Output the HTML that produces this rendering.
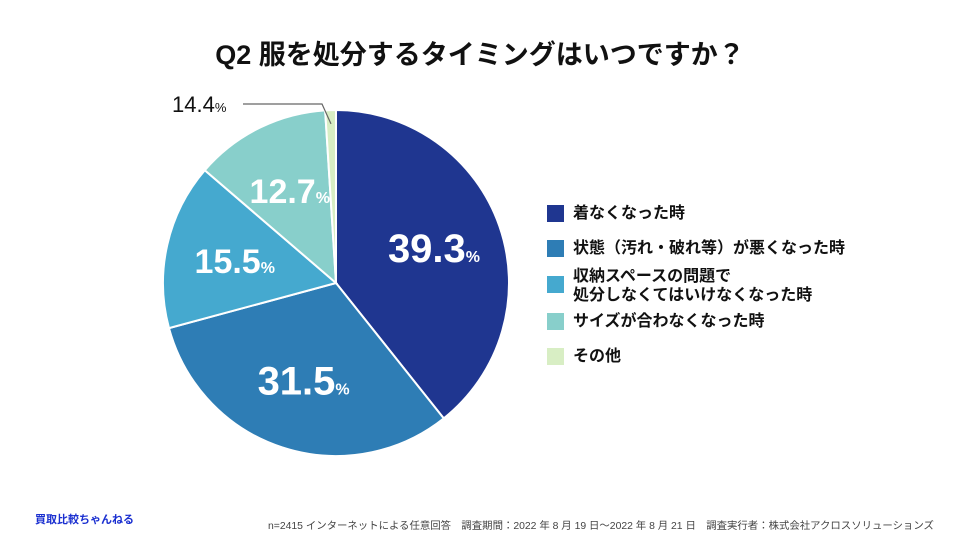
<!DOCTYPE html>
<html><head><meta charset="utf-8">
<style>
body{margin:0;background:#fff;}
#wrap{position:relative;width:960px;height:541px;overflow:hidden;font-family:"Liberation Sans","Noto Sans CJK JP",sans-serif;}
.t{position:absolute;white-space:nowrap;}
.leg{position:absolute;left:547px;font-size:16px;font-weight:bold;color:#111;line-height:19px;}
.sw{position:absolute;left:547px;width:17px;height:17px;}
</style></head><body>
<div id="wrap">
<div class="t" style="left:0;width:960px;text-align:center;top:33px;font-size:27px;font-weight:bold;color:#111;">Q2 服を処分するタイミングはいつですか？</div>
<svg id="pie" width="960" height="541" style="position:absolute;left:0;top:0"></svg>
<div class="sw" style="top:205px;background:#1f3690"></div>
<div class="leg" style="left:573px;top:204px">着なくなった時</div>
<div class="sw" style="top:240px;background:#2e7db5"></div>
<div class="leg" style="left:573px;top:239px">状態（汚れ・破れ等）が悪くなった時</div>
<div class="sw" style="top:276px;background:#45a9cf"></div>
<div class="leg" style="left:573px;top:267px">収納スペースの問題で<br>処分しなくてはいけなくなった時</div>
<div class="sw" style="top:313px;background:#88cfcb"></div>
<div class="leg" style="left:573px;top:312px">サイズが合わなくなった時</div>
<div class="sw" style="top:348px;background:#d8eec4"></div>
<div class="leg" style="left:573px;top:347px">その他</div>
<div class="t" style="left:35px;top:511px;font-size:11px;font-weight:bold;color:#1a2fd0;">買取比較ちゃんねる</div>
<div class="t" style="left:268px;top:517px;font-size:10.4px;color:#444;">n=2415 インターネットによる任意回答　調査期間：2022 年 8 月 19 日〜2022 年 8 月 21 日　調査実行者：株式会社アクロスソリューションズ</div>
</div>
<script>
const categories=["着なくなった時","状態（汚れ・破れ等）が悪くなった時","収納スペースの問題で処分しなくてはいけなくなった時","サイズが合わなくなった時","その他"];
const values=[39.3,31.5,15.5,12.7,1.0];
const labels=["39.3","31.5","15.5","12.7","14.4"];
const colors=["#1f3690","#2e7db5","#45a9cf","#88cfcb","#d8eec4"];
const NS="http://www.w3.org/2000/svg";
const svg=document.getElementById('pie');
const cx=336,cy=283,r=173;
const total=values.reduce((a,b)=>a+b,0);
function pt(a,rr){return [cx+rr*Math.sin(a),cy-rr*Math.cos(a)];}
let acc=0;
values.forEach((v,i)=>{
  const a0=acc/total*2*Math.PI; acc+=v; const a1=acc/total*2*Math.PI;
  const p0=pt(a0,r),p1=pt(a1,r);
  const path=document.createElementNS(NS,'path');
  path.setAttribute('d',`M${cx},${cy}L${p0[0]},${p0[1]}A${r},${r} 0 ${a1-a0>Math.PI?1:0} 1 ${p1[0]},${p1[1]}Z`);
  path.setAttribute('fill',colors[i]);path.setAttribute('stroke','#fff');path.setAttribute('stroke-width','2');
  
  
  svg.appendChild(path);
  const am=(a0+a1)/2;
  if(v>5){
    const p=pt(am,r*0.6);
    const t=document.createElementNS(NS,'text');
    t.setAttribute('x',p[0]);t.setAttribute('y',p[1]+13);t.setAttribute('text-anchor','middle');
    t.setAttribute('fill','#fff');t.setAttribute('font-weight','bold');
    t.setAttribute('font-family','Liberation Sans, sans-serif');
    t.setAttribute('font-size',v>30?40:34);
    t.innerHTML=labels[i]+'<tspan font-size="16">%</tspan>';
    
    
    svg.appendChild(t);
  } else {
    const p=pt(am,r*0.92);
    const l=document.createElementNS(NS,'polyline');
    l.setAttribute('points',`243,104 322,104 ${p[0]},${p[1]}`);
    l.setAttribute('fill','none');l.setAttribute('stroke','#666');l.setAttribute('stroke-width','1.2');
    
    
    svg.appendChild(l);
    const t=document.createElementNS(NS,'text');
    t.setAttribute('x',172);t.setAttribute('y',112);
    t.setAttribute('fill','#111');t.setAttribute('font-family','Liberation Sans, sans-serif');t.setAttribute('font-size',22);
    t.innerHTML=labels[i]+'<tspan font-size="13">%</tspan>';
    
    
    svg.appendChild(t);
  }
});
</script>
</body></html>
